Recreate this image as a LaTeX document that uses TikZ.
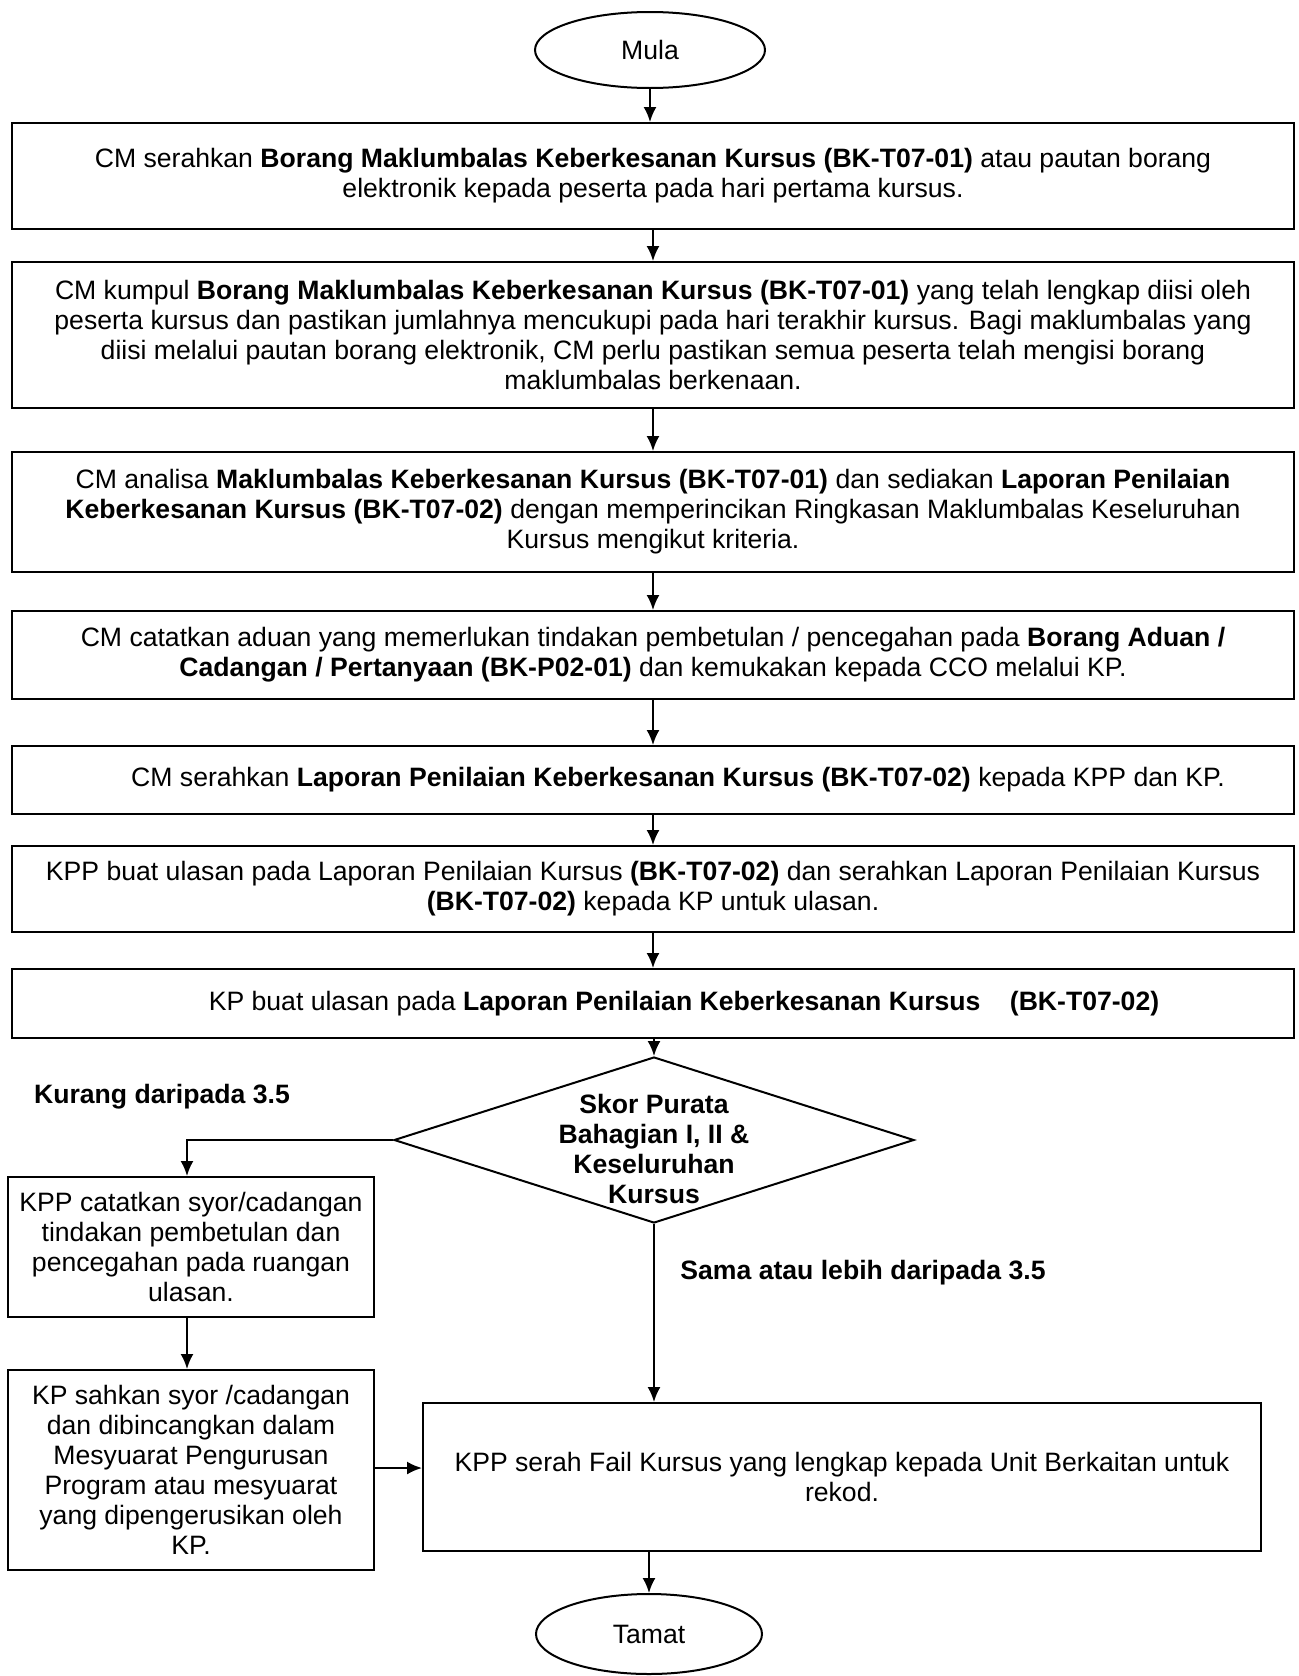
\documentclass[tikz,border=0pt]{standalone}
\usepackage{fontspec}
\setmainfont{Liberation Sans}
\usetikzlibrary{shapes.geometric,arrows.meta}
\begin{document}
\begin{tikzpicture}[x=0.5pt,y=-0.5pt,
  every node/.style={font=\fontsize{13.3}{15}\selectfont},
  box/.style={draw, line width=1pt, rectangle, inner sep=0pt, align=center},
  term/.style={draw, line width=1pt, ellipse, inner sep=0pt},
  dia/.style={draw, line width=1pt, diamond, inner sep=0pt, minimum width=260pt, minimum height=83pt},
  lbl/.style={font=\fontsize{13.3}{15}\selectfont\bfseries, inner sep=0pt, align=center},
  arr/.style={line width=1pt, -{Latex[length=7.5pt,width=6.5pt]}}
]
\useasboundingbox (0,0) rectangle (1298,1676);

\node[term, minimum width=115pt, minimum height=38pt] (mula) at (650,50) {Mula};

\node[box, minimum width=641pt, minimum height=53pt] (b1) at (653,176)
 {CM serahkan \textbf{Borang Maklumbalas Keberkesanan Kursus (BK-T07-01)} atau pautan borang\\
  elektronik kepada peserta pada hari pertama kursus.};

\node[box, minimum width=641pt, minimum height=73pt] (b2) at (653,335)
 {CM kumpul \textbf{Borang Maklumbalas Keberkesanan Kursus (BK-T07-01)} yang telah lengkap diisi oleh\\
  peserta kursus dan pastikan jumlahnya mencukupi pada hari terakhir kursus. Bagi maklumbalas yang\\
  diisi melalui pautan borang elektronik, CM perlu pastikan semua peserta telah mengisi borang\\
  maklumbalas berkenaan.};

\node[box, minimum width=641pt, minimum height=60pt] (b3) at (653,512)
 {CM analisa \textbf{Maklumbalas Keberkesanan Kursus (BK-T07-01)} dan sediakan \textbf{Laporan Penilaian}\\
  \textbf{Keberkesanan Kursus (BK-T07-02)} dengan memperincikan Ringkasan Maklumbalas Keseluruhan\\
  Kursus mengikut kriteria.};

\node[box, minimum width=641pt, minimum height=44pt] (b4) at (653,655)
 {CM catatkan aduan yang memerlukan tindakan pembetulan / pencegahan pada \textbf{Borang Aduan /}\\
  \textbf{Cadangan / Pertanyaan (BK-P02-01)} dan kemukakan kepada CCO melalui KP.};

\node[box, minimum width=641pt, minimum height=34pt] (b5) at (653,780)
 {\hspace*{25pt}CM serahkan \textbf{Laporan Penilaian Keberkesanan Kursus (BK-T07-02)} kepada KPP dan KP.};

\node[box, minimum width=641pt, minimum height=43pt] (b6) at (653,889)
 {KPP buat ulasan pada Laporan Penilaian Kursus \textbf{(BK-T07-02)} dan serahkan Laporan Penilaian Kursus\\
  \textbf{(BK-T07-02)} kepada KP untuk ulasan.};

\node[box, minimum width=641pt, minimum height=34.5pt] (b7) at (653,1003.5)
 {\hspace*{31pt}KP buat ulasan pada \textbf{Laporan Penilaian Keberkesanan Kursus\hspace{11pt} (BK-T07-02)}};

\node[dia] (d) at (654,1140) {};
\node[lbl] (dt) at (654,1149) {Skor Purata\\ Bahagian I, II \&\\ Keseluruhan\\ Kursus};

\node[lbl] (kurang) at (162,1097) {Kurang daripada 3.5};
\node[lbl] (sama) at (863,1273) {Sama atau lebih daripada 3.5};

\node[box, minimum width=183pt, minimum height=70pt] (b8) at (191,1247)
 {KPP catatkan syor/cadangan\\ tindakan pembetulan dan\\ pencegahan pada ruangan\\ ulasan.};

\node[box, minimum width=183pt, minimum height=100pt] (b9) at (191,1470)
 {KP sahkan syor /cadangan\\ dan dibincangkan dalam\\ Mesyuarat Pengurusan\\ Program atau mesyuarat\\ yang dipengerusikan oleh\\ KP.};

\node[box, minimum width=419pt, minimum height=74pt] (b10) at (842,1477)
 {KPP serah Fail Kursus yang lengkap kepada Unit Berkaitan untuk\\ rekod.};

\node[term, minimum width=113pt, minimum height=40pt] (tamat) at (649,1634) {Tamat};

\draw[arr] (mula.south) -- (mula.south |- b1.north);
\draw[arr] (b1.south) -- (b2.north);
\draw[arr] (b2.south) -- (b3.north);
\draw[arr] (b3.south) -- (b4.north);
\draw[arr] (b4.south) -- (b5.north);
\draw[arr] (b5.south) -- (b6.north);
\draw[arr] (b6.south) -- (b7.north);
\draw[arr] (d.north |- b7.south) -- (d.north);
\draw[arr] (d.west) -| ([xshift=-2pt]b8.north);
\draw[arr] ([xshift=-2pt]b8.south) -- ([xshift=-2pt]b9.north);
\draw[arr] (d.south) -- (d.south |- b10.north);
\draw[arr] ([yshift=1pt]b9.east) -- ([yshift=1pt]b9.east -| b10.west);
\draw[arr] (tamat.north |- b10.south) -- (tamat.north);
\end{tikzpicture}
\end{document}
